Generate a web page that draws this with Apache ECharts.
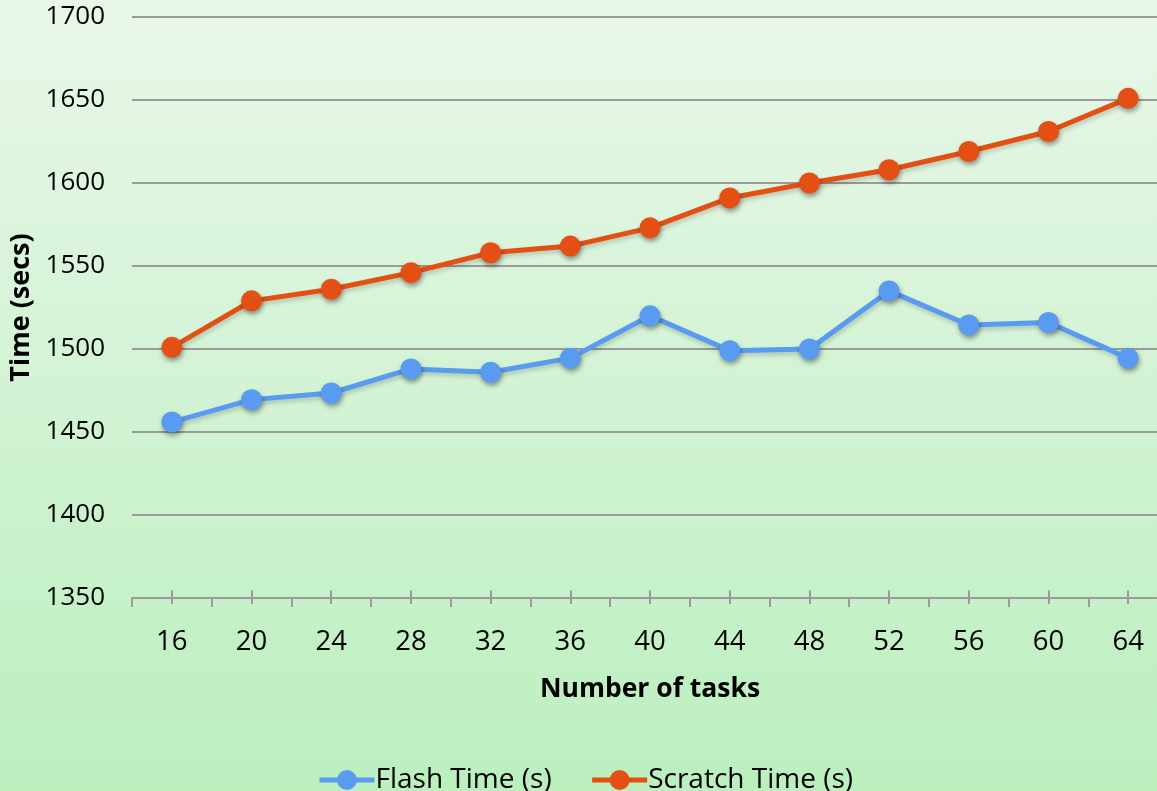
<!DOCTYPE html>
<html>
<head>
<meta charset="utf-8">
<title>Flash vs Scratch time</title>
<script src="https://cdn.jsdelivr.net/npm/echarts@6/dist/echarts.min.js"></script>
<style>
  html, body { margin: 0; padding: 0; }
  #chart { width: 1157px; height: 791px; }
</style>
</head>
<body>
<div id="chart"></div>
<script>
// Number of tasks on the x axis
const tasks = ['16', '20', '24', '28', '32', '36', '40', '44', '48', '52', '56', '60', '64'];
// Run times in seconds
const flashTime = [1456, 1469.5, 1473.5, 1488, 1486, 1494.5, 1520, 1499, 1500, 1535, 1514.5, 1516, 1494.5];
const scratchTime = [1501, 1529, 1536, 1546, 1558, 1562, 1573, 1591, 1600, 1608, 1619, 1631, 1651];
// Value axis range
const yMin = 1350, yMax = 1700, yStep = 50;

const FONT = '"Open Sans", sans-serif';
const AXIS_GREY = '#9a9a9a';

const chart = echarts.init(document.getElementById('chart'));

function lineSeries(name, data, color) {
  return {
    name: name,
    type: 'line',
    data: data,
    xAxisIndex: 0,
    symbol: 'circle',
    symbolSize: 21,
    lineStyle: {
      color: color, width: 5,
      shadowColor: 'rgba(0,0,0,0.18)', shadowBlur: 4, shadowOffsetX: 1, shadowOffsetY: 3
    },
    itemStyle: {
      color: color,
      shadowColor: 'rgba(0,0,0,0.4)', shadowBlur: 5, shadowOffsetX: 1, shadowOffsetY: 3
    },
    emphasis: { disabled: true },
    animation: false
  };
}

// extra tick-only axes give the crossing ticks at each category
function tickAxis(inside, length) {
  return {
    type: 'category',
    data: tasks,
    position: 'bottom',
    boundaryGap: true,
    axisLine: { show: false },
    axisLabel: { show: false },
    splitLine: { show: false },
    axisTick: {
      show: true, alignWithLabel: true, inside: inside, length: length,
      lineStyle: { color: AXIS_GREY, width: 2 }
    }
  };
}

chart.setOption({
  backgroundColor: {
    type: 'linear', x: 0, y: 0, x2: 0, y2: 1,
    colorStops: [
      { offset: 0, color: '#e9f7e9' },
      { offset: 1, color: '#bbefbe' }
    ]
  },
  textStyle: { fontFamily: FONT },
  grid: {
    left: 132, right: -11, top: 17, bottom: 193,
    containLabel: false, outerBoundsMode: 'none'
  },
  legend: {
    top: 761,
    left: 312,
    itemWidth: 55,
    itemHeight: 25,
    itemGap: 38,
    lineStyle: { width: 5, shadowBlur: 0, shadowColor: 'transparent' },
    itemStyle: { shadowBlur: 0, shadowColor: 'transparent' },
    textStyle: { fontFamily: FONT, fontSize: 28, color: '#000', padding: [0, 0, 0, -4] },
    data: ['Flash Time (s)', 'Scratch Time (s)']
  },
  xAxis: [
    {
      type: 'category',
      data: tasks,
      position: 'bottom',
      boundaryGap: true,
      name: 'Number of tasks',
      nameLocation: 'middle',
      nameGap: 78,
      nameTextStyle: { fontFamily: FONT, fontSize: 26.5, fontWeight: 'bold', color: '#000' },
      axisLine: { show: true, lineStyle: { color: AXIS_GREY, width: 2 } },
      axisTick: {
        show: true, alignWithLabel: false, length: 9, interval: 0,
        lineStyle: { color: AXIS_GREY, width: 2 }
      },
      axisLabel: { margin: 30, fontFamily: FONT, fontSize: 27.5, color: '#000', interval: 0 },
      splitLine: { show: false }
    },
    tickAxis(true, 7.5),
    tickAxis(false, 6)
  ],
  yAxis: {
    type: 'value',
    min: yMin, max: yMax, interval: yStep,
    name: 'Time (secs)',
    nameLocation: 'middle',
    nameGap: 85,
    nameTextStyle: { fontFamily: FONT, fontSize: 27, fontWeight: 'bold', color: '#000' },
    axisLine: { show: false },
    axisTick: { show: false },
    axisLabel: {
      margin: 27, fontFamily: FONT, fontSize: 26, color: '#000',
      padding: [3, 0, 0, 0],
      formatter: function (v) { return String(v); }
    },
    splitLine: { show: true, lineStyle: { color: AXIS_GREY, width: 2 } }
  },
  series: [
    lineSeries('Flash Time (s)', flashTime, '#589bf1'),
    lineSeries('Scratch Time (s)', scratchTime, '#e45013')
  ],
  animation: false
});
</script>
</body>
</html>
